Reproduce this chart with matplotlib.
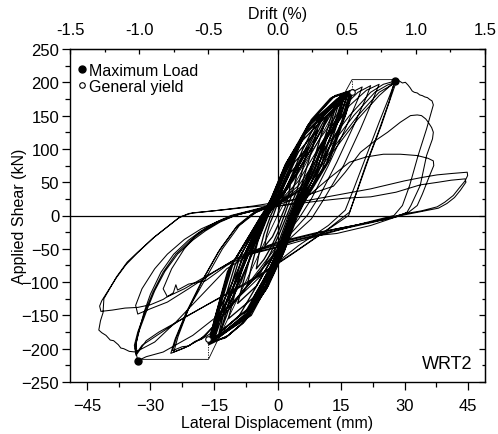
import matplotlib
matplotlib.use("Agg")
import matplotlib.pyplot as plt
from matplotlib.ticker import MultipleLocator, NullFormatter
from matplotlib.lines import Line2D
import numpy as np

plt.rcParams['font.family'] = ['Liberation Sans', 'DejaVu Sans']

# ---------------- data (displacement mm, shear kN) -------------
cyc_e1 = [(0,0),(1,24),(2,38),(3,45),(2.6,30),(1.8,12),(1,0),(0,-16),(-1.2,-32),(-3,-46),(-2.6,-30),(-1.8,-12),(-1,0)]
cyc_e2 = [(-0.2,14),(1.2,40),(3,64),(5,78),(4.4,56),(3.2,28),(1.6,0),(0.2,-24),(-1.4,-46),(-3.2,-66),(-5,-80),
          (-4.4,-58),(-3.2,-28),(-1.6,0)]
cyc_e3 = [(-0.4,16),(1.6,46),(4,80),(7.2,102),(6.2,76),(4.6,38),(2.2,0),(0.4,-28),(-1.6,-56),(-4,-86),
          (-7.2,-106),(-6.2,-78),(-4.6,-38),(-2.2,0)]
cyc_e4 = [(-0.6,18),(1.8,54),(5,96),(9.4,128),(8,96),(5.8,48),(2.6,0),(0.6,-34),(-1.8,-70),(-5,-106),
          (-9.4,-132),(-8,-98),(-5.8,-48),(-2.6,0)]
cyc_e5 = [(-0.8,20),(2,60),(5.8,112),(11.6,150),(10,114),(7.4,58),(3,0),(0.8,-40),(-2,-82),(-5.8,-124),
          (-11.6,-155),(-10,-116),(-7.4,-58),(-3,0)]
cyc_e6 = [(-1,22),(2,66),(6.4,124),(13.6,168),(11.8,130),(8.8,68),(3.2,0),(0.8,-46),(-2.2,-92),(-6.6,-138),
          (-13.4,-174),(-11.6,-132),(-8.6,-68),(-3.2,0)]
cyc_e6b = [(-1.2,20),(1.8,64),(6.6,122),(14,170),(12.2,128),(9.2,64),(3.6,0),(1,-48),(-2.4,-94),(-6.8,-140),
           (-13.8,-176),(-12,-128),(-9,-64),(-3.6,0)]
cyc_e7 = [(-1.2,24),(2,72),(7.2,136),(15.6,182),(13.6,140),(10.2,74),(3.4,0),(0.8,-52),(-2.4,-102),
          (-7.4,-150),(-15,-186),(-13.2,-142),(-10,-74),(-3.4,0)]
cyc_e7b = [(-1.4,22),(1.8,70),(7.4,134),(16,184),(14,136),(10.6,70),(3.8,0),(1,-54),(-2.6,-104),(-7.6,-152),
           (-15.4,-188),(-13.6,-138),(-10.4,-70),(-3.8,0)]
cyc_e8 = [(-1.4,26),(2,78),(8,144),(12.5,176),(17.7,188),(15.6,146),(11.8,80),(3.8,0),(1,-56),(-2.6,-110),
          (-8,-160),(-12,-182),(-16.4,-192),(-14.6,-150),(-11.4,-80),(-3.6,0)]
cyc_e8b = [(-1.6,24),(1.8,76),(8.2,142),(13,178),(17.4,186),(15.2,142),(11.4,76),(4,0),(1.2,-58),(-2.8,-112),
           (-8.2,-162),(-12.4,-184),(-16,-190),(-14.2,-146),(-11,-76),(-3.8,0)]
cyc_f1 = [(1.2,30),(3,55),(6,100),(10,150),(15,180),(13.6,150),(10.6,100),(7.4,50),(4,0),(1,-50),(-2.8,-100),
          (-7,-150),(-14,-184),(-12,-150),(-9.4,-100),(-6.4,-50),(-3,0)]
cyc_f2 = [(1,32),(3.6,58),(7,100),(11,150),(16,184),(14.4,150),(9.6,100),(6.6,50),(3.4,0),(0.4,-50),(-3.6,-100),
          (-8,-150),(-15,-187),(-13,-150),(-8.6,-100),(-5.8,-50),(-2.6,0)]
cyc_f3 = [(1.4,34),(3.2,56),(6.6,100),(10.6,150),(16.6,186),(15,150),(11.2,100),(8,50),(4.4,0),(1.4,-50),
          (-2.4,-100),(-6.6,-150),(-15.6,-189),(-13.6,-150),(-10,-100),(-6.8,-50),(-3.2,0)]
cyc_f4 = [(1.8,36),(4,58),(8,100),(12,150),(17.2,187),(15.4,150),(9.8,100),(6.2,50),(3,0),(0,-50),(-4.4,-100),
          (-9,-150),(-16,-190),(-14,-150),(-9,-100),(-5.4,-50),(-2.4,0)]
cyc_f5 = [(1.2,30),(3.4,58),(7.4,100),(11.6,150),(16.8,185),(14.8,150),(10.2,100),(7,50),(3.6,0),(0.6,-50),
          (-3.2,-100),(-7.6,-150),(-15.8,-190),(-13.4,-150),(-9.8,-100),(-6.2,-50),(-2.8,0)]
cyc_f6 = [(1.6,34),(4.4,62),(8.6,108),(12.6,152),(17.6,188),(16,150),(12,100),(8.6,50),(4.8,0),(1.8,-50),
          (-2,-100),(-6.2,-150),(-16.2,-192),(-14.4,-150),(-10.6,-100),(-7.2,-50),(-3.6,0)]
cyc_e8c = [(-1.2,28),(2.2,80),(8.6,146),(13.6,180),(18,189),(16,150),(12.4,84),(4.4,0),(1.6,-54),(-2.2,-106),
           (-7.6,-158),(-11.6,-180),(-16.2,-194),(-14.8,-154),(-11.8,-84),(-3.4,0)]

cyc_l1 = [(-1.6,24),(1.6,70),(8,140),(14,175),(17.5,185),(20,193),(19,175),(16,130),(12,75),(8,25),(5,-5),
          (0,-45),(-6,-95),(-12,-145),(-17,-180),(-21,-196),(-24.5,-205),(-23.5,-182),(-21,-140),(-17,-95),
          (-13,-50),(-9,-15),(-5,5),(0,20)]
cyc_l2 = [(4,55),(10,115),(15,160),(19,185),(22,195),(21,178),(18,135),(14,80),(10,30),(7,0),(2,-35),(-5,-90),
          (-12,-145),(-18,-185),(-22,-199),(-25.2,-207),(-24.2,-186),(-21.6,-146),(-18,-100),(-14,-55),(-10,-20),
          (-6,2),(0,18)]
cyc_l3 = [(5,52),(11,115),(17,165),(21,188),(24,197),(22.6,175),(19.6,130),(15.6,75),(11,25),(8,-5),(2,-40),
          (-6,-98),(-12,-140),(-16,-178),(-18,-186),(-19.5,-189),(-21,-196),(-22.5,-197),(-24.8,-203),(-23.8,-182),
          (-21,-140),(-17.5,-95),(-13.5,-50),(-9.5,-15),(-5.5,5),(0,18)]

cyc_m1 = [(5,45),(11,100),(17,150),(22,185),(25,197),(27.8,202),(26.5,180),(24,140),(21,90),(18,40),(16,8),
          (12,-15),(5,-45),(-3,-85),(-12,-140),(-20,-180),(-27,-205),(-31,-212),(-33,-218),(-33.6,-200),(-33,-180),
          (-31.5,-145),(-30,-118),(-27.5,-85),(-24.5,-58),(-21,-37),(-18,-23),(-14.5,-10),(-11,0),(-6,8),(0,18)]
cyc_m2 = [(6,45),(12,100),(18,150),(23,185),(26,196),(28,200),(26.8,178),(24.5,135),(21.5,85),(19,40),(17,5),
          (12,-20),(4,-55),(-5,-92),(-15,-128),(-21,-150),(-28,-175),(-31,-188),(-33.4,-210),(-33.8,-195),
          (-33,-175),(-31,-140),(-29.4,-115),(-27,-85),(-24,-58),(-20.5,-37),(-17.5,-23),(-14,-10),(-10.5,0),
          (-5.5,8),(0,17)]
cyc_m3 = [(6,42),(13,100),(19,150),(24,185),(27.5,198),(26.4,172),(23.8,125),(20.8,75),(18.4,30),(16.8,0),
          (11,-25),(3,-60),(-6,-98),(-16,-132),(-22,-153),(-28,-178),(-32,-195),(-33.2,-206),(-33.4,-192),
          (-32.6,-172),(-30.6,-138),(-29,-113),(-26.6,-84),(-23.6,-58),(-20,-37),(-17,-23),(-13.6,-10),(-10,0),
          (-5,8),(0,16)]

cyc_p1 = [(6,40),(13,95),(19,145),(24,180),(27.2,198),(28.5,203),(29.5,199),(30.2,200),(30.8,196),(31.3,192),
          (31.8,187),(32.3,185),(33,184),(33.6,181),(34.2,180),(34.8,178),(35.4,177),(36,174),(36.5,172),
          (36.8,166),(35.2,130),(33.2,90),(31.2,45),(29.5,15),(27.5,0),(20,-12),(10,-30),(0,-48),(-6.4,-58),
          (-12,-80),(-18,-120),(-24,-160),(-29,-190),(-33.5,-205),(-35,-204),(-36.3,-200),(-37,-199),(-37.6,-194),
          (-38.7,-188),(-39.5,-187),(-40.5,-180),(-41.5,-176),(-42.2,-172),(-41.8,-158),(-41.2,-146),(-41,-125),
          (-38,-92),(-35.5,-70),(-33,-55),(-29,-32),(-25.2,-13),(-23,-2),(-20,4),(-12,9),(-6,13),(0,16)]
cyc_p2 = [(5,26),(9,35),(13.2,44),(16,65),(19.6,95),(23,112),(26,125),(29,140),(31.4,150),(33,151),(34,150),
          (35,145),(35.6,140),(36.4,132),(36.8,125),(36.6,115),(35.2,90),(33.7,45),(31.5,15),(30.6,5),(29,0),
          (22,-15),(14,-27),(9.4,-30),(4,-38),(0,-47),(-6.4,-57),(-12,-75),(-17,-98),(-21,-103),(-23.6,-112),
          (-24,-104),(-24.6,-116),(-27,-126),(-30,-134),(-33,-138),(-36,-139),(-39,-142),(-41.7,-144),(-42,-136),
          (-41.5,-128),(-40.5,-118),(-38,-93),(-35.8,-74),(-33.2,-57),(-29.4,-34),(-25.6,-15),(-23.4,-4),(-21,3),
          (-15,7),(-6,14),(0,20)]
cyc_p3 = [(4,24),(7,28),(12,55),(17,80),(21,88),(25,92),(29,92),(33,90),(35.5,86),(36.8,82),(36.9,75),
          (35.8,58),(34.2,32),(33,15),(31,5),(26,-5),(18,-15),(9,-26),(0,-40),(-8,-58),(-15,-85),(-21,-110),
          (-26,-130),(-30,-140),(-33,-148),(-33.5,-135),(-32,-110),(-29,-80),(-26,-58),(-22,-36),(-18,-20),
          (-13,-6),(-8,4),(0,14)]
cyc_q1 = [(5,20),(10,26),(16,33),(22,40),(26,46),(30,52),(34,57),(37.7,61),(41,63),(44.8,65),(44.9,60),
          (44.3,52),(43,42),(41.5,30),(39.5,20),(37.7,13),(34,7),(30,2.5),(26,-4),(22,-10),(14,-20),(6,-32),
          (0,-42),(-5,-52),(-10,-66),(-16,-88),(-22,-110),(-26,-122),(-27,-110),(-25,-80),(-22,-50),(-19,-28),
          (-15,-12),(-10,0),(-4,10),(0,14)]
cyc_q2 = [(5,18),(10,22),(16,26),(22,28),(28,35),(33.7,46),(38,50),(41,53),(44.3,55),(44.5,50),(43.2,38),
          (41.8,27),(40,18),(38,11),(34,6),(30,1),(26,-5),(22,-11),(14,-22),(6,-34),(0,-44),(-6.4,-56)]

band_cycles = [cyc_e1, cyc_e2, cyc_e3, cyc_e4, cyc_e5, cyc_e6, cyc_e6b, cyc_f1, cyc_f2, cyc_e7, cyc_f3,
               cyc_e7b, cyc_f4, cyc_f5, cyc_e8, cyc_f6, cyc_e8b, cyc_e8c]
large_cycles = [cyc_l1, cyc_l2, cyc_l3, cyc_m1, cyc_m2, cyc_m3, cyc_p1, cyc_p2, cyc_p3, cyc_q1, cyc_q2]

bilin_pos_d = [0, 17.6, 28.0]
bilin_pos_f = [0, 204, 204]
bilin_neg_d = [0, -16.3, -33.0]
bilin_neg_f = [0, -216, -216]
yield_d = [17.6, -16.3]
yield_f = [185, -186]
max_d = [27.8, -33.0]
max_f = [202, -218]

x_ticks = [-45, -30, -15, 0, 15, 30, 45]
y_ticks = [-250, -200, -150, -100, -50, 0, 50, 100, 150, 200, 250]
drift_ticks = [-1.5, -1.0, -0.5, 0.0, 0.5, 1.0, 1.5]
x_lim = 49.0
drift_lim = 1.5

# ---------------- figure -------------
fig = plt.figure(figsize=(4.98, 4.35), dpi=100)
ax = fig.add_axes([70/498, 1-383/435, 415/498, 333/435])

band = np.array([pt for c in band_cycles for pt in c])
ax.plot(band[:, 0], band[:, 1], color='black', lw=0.95, zorder=3)
rest = np.array([tuple(band[-1])] + [pt for c in large_cycles for pt in c])
ax.plot(rest[:, 0], rest[:, 1], color='black', lw=0.75, zorder=3)

ax.plot(bilin_pos_d, bilin_pos_f, color='black', lw=0.6, zorder=4)
ax.plot(bilin_neg_d, bilin_neg_f, color='black', lw=0.6, zorder=4)
for d, f, top in zip(yield_d, yield_f, [bilin_pos_f[1], bilin_neg_f[1]]):
    ax.plot([d, d], [f, top], color='black', lw=0.6, ls=(0, (1.5, 1.5)), zorder=4)
ax.plot(yield_d, yield_f, 'o', ms=4, mfc='white', mec='black', mew=0.8, ls='none', zorder=5)
ax.plot(max_d, max_f, 'o', ms=5, mfc='black', mec='black', ls='none', zorder=5)

ax.axhline(0, color='black', lw=0.9, zorder=2)
ax.axvline(0, color='black', lw=0.9, zorder=2)

ax.set_xlim(-x_lim, x_lim)
ax.set_ylim(-250, 250)
ax.set_xticks(x_ticks)
ax.set_yticks(y_ticks)
ax.xaxis.set_minor_locator(MultipleLocator(7.5))
ax.yaxis.set_minor_locator(MultipleLocator(25))
ax.tick_params(axis='both', which='major', direction='out', length=5.8, width=0.9, labelsize=12,
               top=False, right=False)
ax.tick_params(axis='x', which='major', pad=6)
ax.tick_params(axis='y', which='major', pad=2)
ax.tick_params(axis='both', which='minor', direction='out', length=3.5, width=0.9, top=False, right=False)
for s in ax.spines.values():
    s.set_linewidth(1.0)

ax.set_xlabel('Lateral Displacement (mm)', fontsize=11.5, labelpad=1)
ax.set_ylabel('Applied Shear (kN)', fontsize=11.5, labelpad=-4)

sec = ax.secondary_xaxis('top', functions=(lambda d: d * drift_lim / x_lim, lambda p: p * x_lim / drift_lim))
sec.set_xticks(drift_ticks)
sec.set_xticklabels([f'{t:.1f}' for t in drift_ticks])
sec.xaxis.set_minor_locator(MultipleLocator(0.25))
sec.tick_params(which='major', direction='in', length=3.5, width=0.9, labelsize=12, pad=8.5)
sec.tick_params(which='minor', direction='in', length=2.5, width=0.9)
sec.set_xlabel('Drift (%)', fontsize=11.5, labelpad=3)

secy = ax.secondary_yaxis('right', functions=(lambda v: v, lambda v: v))
secy.set_yticks(y_ticks)
secy.yaxis.set_minor_locator(MultipleLocator(25))
secy.yaxis.set_major_formatter(NullFormatter())
secy.tick_params(which='major', direction='in', length=4, width=0.9)
secy.tick_params(which='minor', direction='in', length=2.5, width=0.9)

handles = [Line2D([], [], marker='o', ls='none', ms=5, mfc='black', mec='black'),
           Line2D([], [], marker='o', ls='none', ms=4, mfc='white', mec='black', mew=0.8)]
ax.legend(handles, ['Maximum Load', 'General yield'], loc='upper left', bbox_to_anchor=(0.02, 0.958),
          frameon=False, fontsize=11.5, handlelength=0.5, handletextpad=0.2, labelspacing=0.05,
          borderpad=0, borderaxespad=0)

ax.text(0.969, 0.057, 'WRT2', transform=ax.transAxes, ha='right', va='center', fontsize=13)

fig.savefig('out.png', dpi=100)
